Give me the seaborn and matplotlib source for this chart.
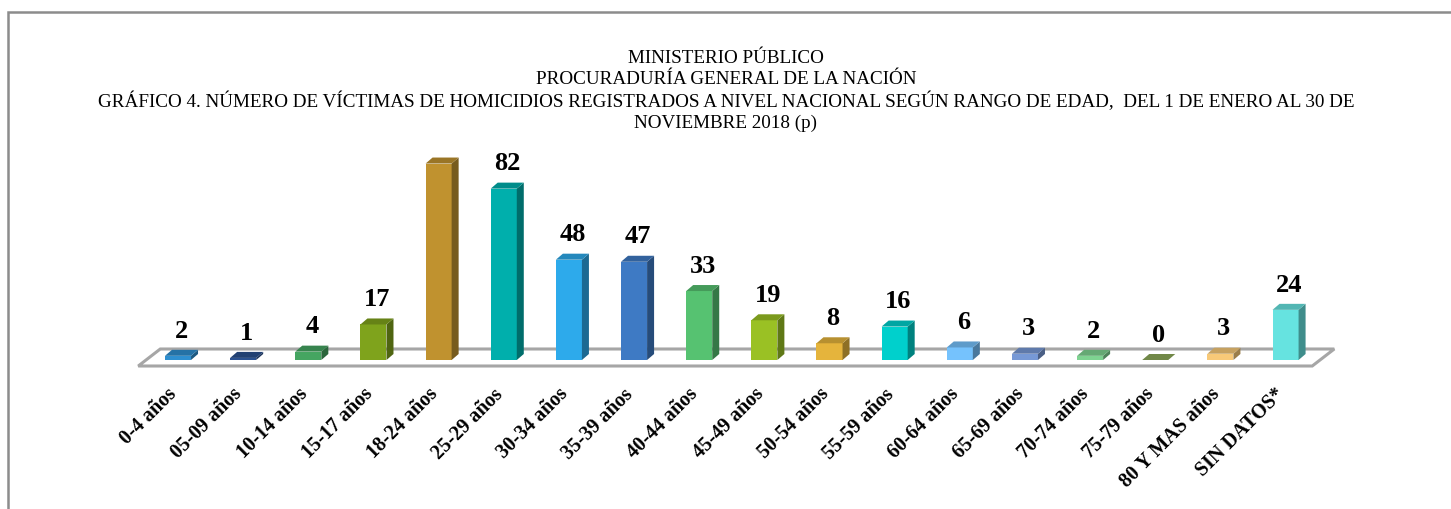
import numpy as np
import matplotlib
matplotlib.use("Agg")
import matplotlib.pyplot as plt
from matplotlib.patches import Polygon, Rectangle
import matplotlib.colors as mcolors
import matplotlib.transforms as mtransforms
import seaborn as sns

# datos del gráfico
categorias = ['0-4 años', '05-09 años', '10-14 años', '15-17 años', '18-24 años',
              '25-29 años', '30-34 años', '35-39 años', '40-44 años', '45-49 años',
              '50-54 años', '55-59 años', '60-64 años', '65-69 años', '70-74 años',
              '75-79 años', '80 Y MAS años', 'SIN DATOS*']
victimas = [2, 1, 4, 17, 94, 82, 48, 47, 33, 19, 8, 16, 6, 3, 2, 0, 3, 24]
colores = ['#2E8FD0', '#2B5190', '#45A561', '#7FA31C', '#C0922F', '#00AFAC',
           '#2DAAEB', '#3E7AC4', '#56C271', '#9AC124', '#E5B43C', '#00D0CC',
           '#75C2FD', '#7799D6', '#7ED391', '#8DAA5A', '#F8C978', '#66E3E0']

titulo = ("MINISTERIO PÚBLICO\nPROCURADURÍA GENERAL DE LA NACIÓN\n"
          "GRÁFICO 4. NÚMERO DE VÍCTIMAS DE HOMICIDIOS REGISTRADOS A NIVEL NACIONAL "
          "SEGÚN RANGO DE EDAD,  DEL 1 DE ENERO AL 30 DE\nNOVIEMBRE 2018 (p)")

sns.set_theme(style="white")
plt.rcParams['font.family'] = ['Liberation Serif', 'DejaVu Serif']

W, H = 1451, 509
fig = plt.figure(figsize=(W / 100, H / 100), dpi=100)

# marco exterior (recortado como en el original)
fig.add_artist(Rectangle((8 / W, -0.2), 1.2, 1.2 - 12 / H, transform=fig.transFigure,
                         fill=False, edgecolor='#8C8C8C', linewidth=1.8))

xmin, xmax = -0.8, 17.9
ymin, ymax = -5, 100.5
px_x, px_y = 65.15, 2.09
x0 = 178 + xmin * px_x
x1 = 178 + xmax * px_x
ybot = 360 - ymin * px_y
ytop = 360 - ymax * px_y
ax = fig.add_axes([x0 / W, 1 - ybot / H, (x1 - x0) / W, (ybot - ytop) / H])

sns.barplot(x=categorias, y=victimas, hue=categorias, palette=colores, width=0.4,
            legend=False, ax=ax, saturation=1, linewidth=0, zorder=3)
ax.set_xlim(xmin, xmax)
ax.set_ylim(ymin, ymax)

# profundidad 3D en unidades de datos
dx = 7 / px_x
dy = 6 / px_y

# piso
n = len(categorias)
fy0, fy1 = -6 / px_y, 11 / px_y
fx0, fx1 = -0.61, n - 1 + 0.41
shift = 22 / px_x
piso = Polygon([(fx0, fy0), (fx1, fy0), (fx1 + shift, fy1), (fx0 + shift, fy1)],
               closed=True, facecolor='white', edgecolor='#A6A6A6', linewidth=2.2, zorder=1)
ax.add_patch(piso)

for bar, c, v in zip(ax.patches, colores, victimas):
    xl = bar.get_x()
    w = bar.get_width()
    h = bar.get_height()
    rgb = np.array(mcolors.to_rgb(c))
    lado = Polygon([(xl + w, 0), (xl + w + dx, dy), (xl + w + dx, h + dy), (xl + w, h)],
                   closed=True, facecolor=rgb * 0.62, edgecolor='none', zorder=3)
    tapa = Polygon([(xl, h), (xl + w, h), (xl + w + dx, h + dy), (xl + dx, h + dy)],
                   closed=True, facecolor=rgb * 0.8, edgecolor='none', zorder=3)
    ax.add_patch(lado)
    ax.add_patch(tapa)
    # la etiqueta que no cabe en el área del gráfico no aparece (como en el original)
    if h + dy + 3.5 + 8 < ymax:
        ax.text(xl + w / 2 + dx / 2, h + dy + 3.5, str(v), ha='center', va='bottom',
                fontsize=19, fontweight='bold', color='black', zorder=4)

ax.set_yticks([])
ax.set_xticks(range(n))
ax.set_xticklabels(categorias, rotation=45, ha='right', rotation_mode='anchor',
                   fontsize=14.5, fontweight='bold', color='black')
ax.tick_params(axis='x', length=0, pad=10)
desplaz = mtransforms.ScaledTranslation(-11 / 100, 0, fig.dpi_scale_trans)
for lbl in ax.get_xticklabels():
    lbl.set_transform(lbl.get_transform() + desplaz)
for s in ax.spines.values():
    s.set_visible(False)
ax.patch.set_alpha(0)

fig.text(726 / W, 1 - 50 / H, titulo, ha='center', va='top', fontsize=13.8,
         linespacing=1.27, color='black')

fig.savefig("out.png", dpi=100)
